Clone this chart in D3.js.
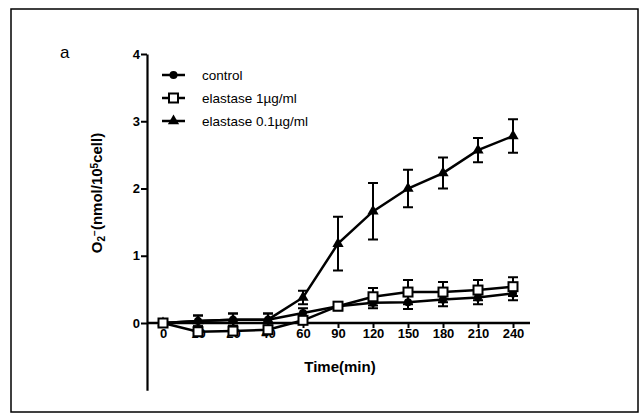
<!DOCTYPE html>
<html>
<head>
<meta charset="utf-8">
<script src="https://cdn.jsdelivr.net/npm/d3@7"></script>
<style>
  body { margin: 0; background: #fff; }
  svg { font-family: "Liberation Sans", Arial, sans-serif; }
</style>
</head>
<body>
<svg id="chart" width="640" height="415"></svg>
<script>
// data
let times = [0, 10, 20, 40, 60, 90, 120, 150, 180, 210, 240];
let timeLabels = ["0", "10", "20", "40", "60", "90", "120", "150", "180", "210", "240"];
let yTicks = [0, 1, 2, 3, 4];

let controlMean = [0, 0.03, 0.05, 0.05, 0.15, 0.25, 0.3, 0.31, 0.35, 0.38, 0.44];
let controlErr = [0.03, 0.08, 0.09, 0.09, 0.07, 0.06, 0.08, 0.1, 0.1, 0.1, 0.1];
let el1Mean = [0, -0.13, -0.12, -0.1, 0.04, 0.25, 0.39, 0.46, 0.46, 0.49, 0.54];
let el1Err = [0.03, 0.05, 0.05, 0.05, 0.05, 0.05, 0.13, 0.18, 0.15, 0.15, 0.14];
let el01Mean = [0, 0.03, 0.05, 0.05, 0.38, 1.18, 1.66, 2.0, 2.23, 2.57, 2.78];
let el01Err = [0.03, 0.08, 0.09, 0.09, 0.1, 0.4, 0.42, 0.28, 0.23, 0.18, 0.25];

let seriesNames = ["control", "elastase 1\u00b5g/ml", "elastase 0.1\u00b5g/ml"];
let seriesShapes = ["circle", "square", "triangle"];

let svg = d3.select("#chart");

// outer frame
svg.append("rect")
    .attr("x", 11).attr("y", 9)
    .attr("width", 627).attr("height", 403)
    .attr("fill", "none").attr("stroke", "#000").attr("stroke-width", 1.5);

svg.append("text")
    .attr("x", 60).attr("y", 58)
    .attr("font-size", 17)
    .text("a");

let x = d3.scalePoint().domain(times).range([163, 513]);
let y = d3.scaleLinear().domain([-1, 4]).range([390.25, 54]);

// y axis
let yAxis = svg.append("g")
    .attr("transform", "translate(147,0)")
    .call(d3.axisLeft(y).tickValues(yTicks).tickSize(6).tickSizeOuter(0).tickFormat(d3.format("d")));
yAxis.select(".domain").attr("stroke-width", 2.2);
yAxis.selectAll(".tick line").attr("stroke-width", 2);
yAxis.selectAll("text").attr("font-size", 13).attr("font-weight", "bold").attr("dx", "2");

// x axis
let xAxis = svg.append("g")
    .attr("transform", "translate(0," + y(0) + ")")
    .call(d3.axisBottom(x).tickFormat((d, i) => timeLabels[i]).tickSize(5).tickSizeOuter(0));
xAxis.select(".domain").attr("d", "M147,0H530").attr("stroke-width", 2.5);
xAxis.selectAll(".tick line").attr("stroke-width", 2);
xAxis.selectAll("text").attr("font-size", 13).attr("font-weight", "bold").attr("dy", "0.55em");

svg.append("text")
    .attr("x", 340).attr("y", 372)
    .attr("text-anchor", "middle")
    .attr("font-size", 15).attr("font-weight", "bold")
    .text("Time(min)");

// y label
let yLab = svg.append("text")
    .attr("transform", "translate(102,193) rotate(-90)")
    .attr("text-anchor", "middle")
    .attr("font-size", 15).attr("font-weight", "bold");
yLab.append("tspan").text("O");
yLab.append("tspan").attr("font-size", 10).attr("baseline-shift", "-30%").text("2");
yLab.append("tspan").attr("font-size", 10).attr("baseline-shift", "40%").text("\u2212");
yLab.append("tspan").text("(nmol/10");
yLab.append("tspan").attr("font-size", 10).attr("baseline-shift", "45%").text("5");
yLab.append("tspan").text("cell)");

function drawMarker(g, shape, cx, cy) {
  if (shape === "circle") {
    g.append("circle").attr("cx", cx).attr("cy", cy).attr("r", 4).attr("fill", "#000");
  } else if (shape === "square") {
    g.append("rect").attr("x", cx - 4.5).attr("y", cy - 4.5).attr("width", 9).attr("height", 9)
        .attr("fill", "#fff").attr("stroke", "#000").attr("stroke-width", 2);
  } else {
    g.append("path").attr("d", d3.symbol().type(d3.symbolTriangle).size(55)())
        .attr("transform", "translate(" + cx + "," + cy + ")").attr("fill", "#000");
  }
}

let allSeries = [
  { mean: controlMean, err: controlErr, shape: "circle" },
  { mean: el01Mean, err: el01Err, shape: "triangle" },
  { mean: el1Mean, err: el1Err, shape: "square" }
];

let line = d3.line().x((d, i) => x(times[i])).y(d => y(d));

allSeries.forEach(s => {
  let g = svg.append("g");
  // error bars
  s.mean.forEach((m, i) => {
    let cx = x(times[i]);
    let top = y(m + s.err[i]), bot = y(m - s.err[i]);
    g.append("path")
        .attr("d", "M" + cx + "," + top + "V" + bot +
             "M" + (cx - 5) + "," + top + "H" + (cx + 5) +
             "M" + (cx - 5) + "," + bot + "H" + (cx + 5))
        .attr("stroke", "#000").attr("stroke-width", 2).attr("fill", "none");
  });
  g.append("path").datum(s.mean)
      .attr("d", line)
      .attr("fill", "none").attr("stroke", "#000").attr("stroke-width", 2.5);
  s.mean.forEach((m, i) => drawMarker(g, s.shape, x(times[i]), y(m)));
});

// legend
let legendY = [75, 98, 121];
seriesNames.forEach((name, i) => {
  let g = svg.append("g");
  g.append("line").attr("x1", 162).attr("x2", 185)
      .attr("y1", legendY[i]).attr("y2", legendY[i])
      .attr("stroke", "#000").attr("stroke-width", 2.5);
  drawMarker(g, seriesShapes[i], 173.5, legendY[i]);
  g.append("text").attr("x", 202).attr("y", legendY[i] + 5)
      .attr("font-size", 13.5).text(name);
});
</script>
</body>
</html>
